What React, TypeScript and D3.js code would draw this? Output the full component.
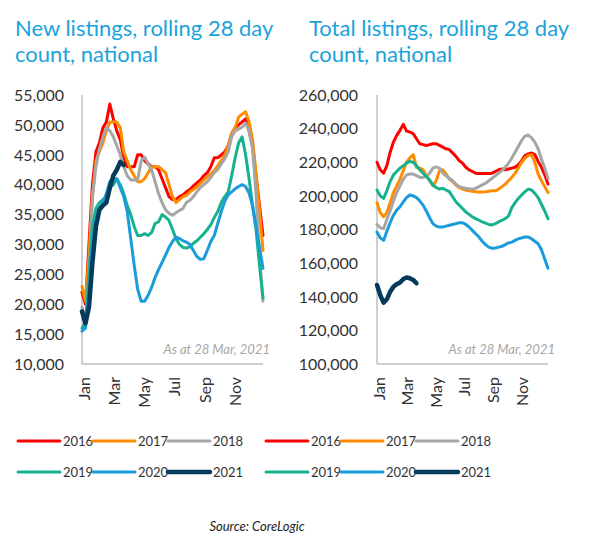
import React from 'react';
import * as d3 from 'd3';

const YEARS = ['2016', '2017', '2018', '2019', '2020', '2021'];
const COLORS = ['#FF0000', '#FF8C00', '#A6A6A6', '#14B28D', '#1A9BDB', '#053A5B'];
const WIDTHS = [3, 3, 3, 3, 3, 4.5];
const MONTHS = ['Jan', 'Mar', 'May', 'Jul', 'Sep', 'Nov'];
const MONTH_DAYS = [0, 59, 120, 181, 243, 304];
const WEEK_DAY = d3.range(53).map((i) => i * 7);

const NEW_TICKS = [10000, 15000, 20000, 25000, 30000, 35000, 40000, 45000, 50000, 55000];
const TOTAL_TICKS = [100000, 120000, 140000, 160000, 180000, 200000, 220000, 240000, 260000];

// New listings (thousands), weekly
const NEW_2016 = [22.0, 20.0, 30.0, 40.0, 45.5, 47.0, 49.5, 50.5, 53.5, 51.0, 49.0, 47.5, 44.5, 43.0, 43.0, 43.0, 45.0, 45.0, 44.0, 43.5, 43.0, 43.0, 42.5, 41.0, 39.5, 38.0, 37.5, 37.5, 38.0, 38.3, 38.8, 39.2, 39.8, 40.3, 40.8, 41.5, 42.0, 43.0, 44.5, 44.5, 45.0, 45.5, 46.5, 48.5, 49.5, 50.0, 50.5, 51.0, 49.0, 46.5, 41.5, 36.5, 31.5];
const NEW_2017 = [23.0, 20.5, 28.0, 38.0, 44.0, 45.5, 47.0, 49.0, 50.5, 50.5, 50.5, 49.5, 45.5, 44.0, 42.5, 41.5, 40.5, 40.5, 41.0, 42.0, 43.0, 43.0, 43.0, 42.5, 42.0, 40.0, 38.0, 37.0, 37.5, 38.0, 38.2, 38.8, 39.2, 39.6, 40.2, 40.8, 41.3, 41.8, 42.3, 43.2, 44.0, 45.0, 46.5, 48.5, 49.5, 51.3, 51.8, 52.2, 50.5, 47.5, 42.0, 35.5, 29.0];
const NEW_2018 = [19.5, 17.5, 24.0, 38.0, 43.0, 46.0, 48.0, 49.5, 49.0, 48.0, 46.5, 45.0, 43.0, 41.5, 40.8, 40.8, 40.8, 44.0, 44.6, 43.5, 42.5, 40.5, 38.5, 37.0, 35.8, 35.2, 34.9, 35.3, 35.7, 36.0, 37.0, 37.4, 38.0, 38.8, 39.5, 40.0, 40.5, 41.2, 42.0, 42.5, 43.5, 44.3, 45.5, 48.0, 49.0, 49.3, 49.6, 50.3, 49.0, 46.0, 38.5, 28.0, 20.5];
const NEW_2019 = [16.0, 17.0, 25.0, 33.0, 36.0, 37.0, 37.5, 38.0, 39.5, 40.0, 41.0, 40.0, 38.5, 36.5, 35.0, 33.0, 31.5, 31.5, 31.8, 31.5, 32.0, 33.5, 33.8, 35.0, 34.6, 34.0, 32.5, 31.0, 30.0, 29.5, 29.4, 29.6, 30.2, 30.6, 31.2, 31.8, 32.5, 33.3, 34.5, 35.5, 37.0, 38.0, 38.8, 41.5, 44.5, 47.0, 48.0, 45.0, 41.0, 36.5, 32.5, 26.5, 21.0];
const NEW_2020 = [15.5, 16.0, 22.0, 30.0, 34.0, 36.0, 37.0, 38.5, 40.5, 41.0, 41.0, 39.5, 38.0, 35.5, 31.0, 26.5, 22.5, 20.5, 20.5, 21.5, 22.8, 24.5, 25.8, 27.0, 28.2, 29.5, 30.5, 31.2, 31.0, 30.6, 30.4, 30.0, 29.0, 28.0, 27.5, 27.6, 29.0, 30.5, 31.5, 33.5, 35.5, 37.2, 38.3, 38.8, 39.3, 39.7, 40.0, 39.7, 38.6, 36.5, 33.0, 29.5, 26.0];
const NEW_2021 = [18.8, 16.8, 19.5, 27.0, 33.0, 35.8, 36.5, 37.0, 39.5, 41.5, 42.5, 43.8, 43.3];

// Total listings (thousands), weekly
const TOT_2016 = [220.0, 215.5, 213.5, 218.0, 226.0, 232.0, 236.0, 239.0, 242.5, 238.5, 238.0, 237.0, 234.0, 231.0, 230.5, 230.0, 230.5, 231.0, 231.0, 230.0, 229.0, 228.0, 227.5, 225.5, 223.5, 221.0, 219.5, 217.0, 215.5, 214.5, 213.5, 213.3, 213.3, 213.3, 213.3, 213.5, 214.5, 215.5, 216.0, 215.5, 216.0, 216.5, 217.0, 218.5, 221.0, 224.0, 225.0, 225.5, 224.5, 220.5, 217.0, 212.5, 207.0];
const TOT_2017 = [196.0, 190.0, 187.5, 190.0, 196.0, 202.0, 206.0, 210.0, 215.0, 220.0, 222.5, 224.5, 217.0, 216.5, 215.5, 212.0, 209.0, 206.0, 209.0, 215.0, 215.5, 213.0, 210.0, 208.5, 206.5, 205.0, 204.0, 203.5, 203.0, 202.8, 202.5, 202.3, 202.3, 202.5, 202.8, 203.0, 203.0, 204.0, 205.5, 207.0, 209.0, 211.0, 213.5, 216.5, 220.0, 222.5, 224.0, 224.5, 220.0, 213.0, 209.0, 205.5, 202.0];
const TOT_2018 = [183.0, 181.0, 180.5, 186.0, 191.0, 197.0, 202.0, 206.0, 210.0, 212.5, 213.0, 213.0, 212.0, 211.0, 211.0, 211.5, 213.5, 216.5, 217.2, 216.5, 213.5, 212.0, 210.5, 209.0, 207.0, 205.5, 205.0, 204.5, 204.2, 204.0, 204.5, 205.5, 206.5, 207.5, 209.0, 210.5, 212.0, 213.5, 215.0, 217.0, 219.5, 222.5, 226.0, 229.5, 233.0, 235.5, 236.2, 234.5, 232.0, 228.0, 222.0, 216.5, 210.5];
const TOT_2019 = [203.5, 200.0, 198.5, 203.0, 208.5, 212.5, 214.5, 216.5, 218.0, 219.5, 220.5, 220.0, 218.0, 215.5, 213.5, 211.5, 209.5, 206.5, 205.0, 204.0, 204.5, 203.5, 202.5, 199.5, 196.5, 194.5, 192.5, 190.5, 189.0, 187.5, 186.5, 185.5, 184.5, 183.8, 183.0, 182.7, 183.5, 184.5, 185.5, 186.5, 188.0, 193.0, 196.0, 198.5, 200.5, 202.5, 204.0, 203.5, 201.5, 199.0, 195.0, 191.0, 186.5];
const TOT_2020 = [178.5, 175.0, 173.5, 179.0, 184.0, 188.5, 191.5, 193.5, 196.5, 199.0, 200.5, 200.0, 199.0, 197.0, 194.5, 191.0, 187.0, 183.5, 182.0, 181.5, 181.5, 182.0, 182.5, 183.0, 183.5, 184.0, 184.0, 183.0, 181.5, 179.5, 177.5, 175.5, 173.0, 171.0, 169.5, 168.8, 169.0, 169.5, 170.0, 171.0, 172.0, 172.5, 173.5, 174.5, 175.0, 175.5, 175.5, 174.5, 173.0, 171.5, 168.0, 162.5, 157.0];
const TOT_2021 = [147.0, 141.0, 136.5, 138.5, 143.0, 146.0, 147.5, 148.5, 150.5, 151.5, 151.0, 150.0, 148.0];

const NEW_SERIES = [NEW_2016, NEW_2017, NEW_2018, NEW_2019, NEW_2020, NEW_2021];
const TOT_SERIES = [TOT_2016, TOT_2017, TOT_2018, TOT_2019, TOT_2020, TOT_2021];

const FONT = 'Lato, "Open Sans", sans-serif';
const TITLE_COLOR = '#1AA3DB';
const TEXT_COLOR = '#333333';
const AXIS_COLOR = '#BFBFBF';

type PanelProps = {
  title: string[];
  titleX: number;
  series: number[][];
  ticks: number[];
  x0: number;
  x1: number;
  labelX: number;
  legendX: number;
};

function Panel({ title, titleX, series, ticks, x0, x1, labelX, legendX }: PanelProps) {
  const yTop = 95;
  const yBottom = 364;
  const x = d3.scaleLinear().domain([0, 364]).range([x0, x1]);
  const y = d3
    .scaleLinear()
    .domain([ticks[0], ticks[ticks.length - 1]])
    .range([yBottom, yTop]);
  const line = d3
    .line<number>()
    .x((_, i) => x(WEEK_DAY[i]))
    .y((d) => y(d * 1000));
  const fmt = d3.format(',');
  return (
    <g>
      {title.map((t, i) => (
        <text key={i} x={titleX} y={36 + i * 26} fontFamily={FONT} fontSize={22} fill={TITLE_COLOR}>
          {t}
        </text>
      ))}
      {ticks.map((t) => (
        <text
          key={t}
          x={labelX}
          y={y(t)}
          dy="0.36em"
          textAnchor="end"
          fontFamily={FONT}
          fontSize={16}
          fill={TEXT_COLOR}
        >
          {fmt(t)}
        </text>
      ))}
      <line x1={x0} x2={x0} y1={yTop} y2={yBottom} stroke={AXIS_COLOR} strokeWidth={1.5} />
      <line x1={x0} x2={x1} y1={yBottom} y2={yBottom} stroke={AXIS_COLOR} strokeWidth={1.5} />
      {MONTHS.map((m, i) => (
        <text
          key={m}
          transform={`translate(${x(MONTH_DAYS[i]) + 2.5},${377}) rotate(-90)`}
          dy="0.36em"
          textAnchor="end"
          fontFamily={FONT}
          fontSize={16}
          fill={TEXT_COLOR}
        >
          {m}
        </text>
      ))}
      {series.map((s, i) => (
        <path
          key={YEARS[i]}
          d={line(s) || ''}
          fill="none"
          stroke={COLORS[i]}
          strokeWidth={WIDTHS[i]}
          strokeLinejoin="round"
          strokeLinecap="round"
        />
      ))}
      <text
        x={x1 + 7}
        y={354}
        textAnchor="end"
        fontFamily={FONT}
        fontStyle="italic"
        fontSize={13}
        fill="#A6A6A6"
      >
        As at 28 Mar, 2021
      </text>
      {YEARS.map((yr, i) => {
        const col = i % 3;
        const row = Math.floor(i / 3);
        const lx = legendX + col * 75;
        const ly = 441 + row * 31;
        return (
          <g key={yr}>
            <line
              x1={lx}
              x2={lx + 42}
              y1={ly}
              y2={ly}
              stroke={COLORS[i]}
              strokeWidth={WIDTHS[i]}
              strokeLinecap="round"
            />
            <text x={lx + 45} y={ly} dy="0.36em" fontFamily={FONT} fontSize={13} fill={TEXT_COLOR}>
              {yr}
            </text>
          </g>
        );
      })}
    </g>
  );
}

export default function App() {
  return (
    <svg
      width={598}
      height={543}
      style={{ position: 'absolute', left: 0, top: 0, background: '#FFFFFF' }}
    >
      <rect width={598} height={543} fill="#FFFFFF" />
      <Panel
        title={['New listings, rolling 28 day', 'count, national']}
        titleX={15}
        series={NEW_SERIES}
        ticks={NEW_TICKS}
        x0={82}
        x1={263}
        labelX={64}
        legendX={18}
      />
      <Panel
        title={['Total listings, rolling 28 day', 'count, national']}
        titleX={309}
        series={TOT_SERIES}
        ticks={TOTAL_TICKS}
        x0={377}
        x1={548}
        labelX={358}
        legendX={266}
      />
      <text
        x={257}
        y={531}
        textAnchor="middle"
        fontFamily={FONT}
        fontStyle="italic"
        fontSize={13}
        fill="#222222"
      >
        Source: CoreLogic
      </text>
    </svg>
  );
}
